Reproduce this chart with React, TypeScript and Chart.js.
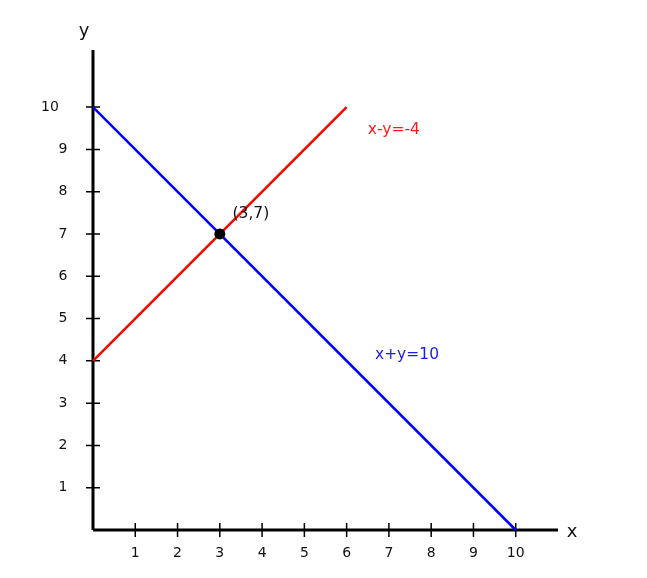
import React, { useEffect, useRef } from "react";
import { Chart, registerables } from "chart.js";

Chart.register(...registerables);

const xTicks = [1, 2, 3, 4, 5, 6, 7, 8, 9, 10];
const yTicks = [1, 2, 3, 4, 5, 6, 7, 8, 9, 10];
const redLine = [
  { x: 0, y: 4 },
  { x: 6, y: 10 },
];
const blueLine = [
  { x: 0, y: 10 },
  { x: 10, y: 0 },
];
const intersection = [{ x: 3, y: 7 }];
const redLabel = "x-y=-4";
const blueLabel = "x+y=10";
const pointLabel = "(3,7)";
const X_MAX = 11;
const Y_MAX = 11.35;

const FONT = "'DejaVu Sans', sans-serif";

const axesPlugin = {
  id: "customAxes",
  beforeDatasetsDraw(chart: any) {
    const ctx = chart.ctx;
    const xs = chart.scales.x;
    const ys = chart.scales.y;
    const ox = xs.getPixelForValue(0);
    const oy = ys.getPixelForValue(0);
    const xEnd = xs.getPixelForValue(X_MAX);
    const yEnd = ys.getPixelForValue(Y_MAX);
    ctx.save();
    ctx.strokeStyle = "#000";
    ctx.lineWidth = 3;
    ctx.beginPath();
    ctx.moveTo(ox, oy);
    ctx.lineTo(xEnd, oy);
    ctx.moveTo(ox, oy);
    ctx.lineTo(ox, yEnd);
    ctx.stroke();
    ctx.lineWidth = 1.5;
    ctx.beginPath();
    xTicks.forEach((v) => {
      const px = xs.getPixelForValue(v);
      ctx.moveTo(px, oy - 7);
      ctx.lineTo(px, oy + 7);
    });
    yTicks.forEach((v) => {
      const py = ys.getPixelForValue(v);
      ctx.moveTo(ox - 7, py);
      ctx.lineTo(ox + 7, py);
    });
    ctx.stroke();

    ctx.fillStyle = "#111";
    ctx.font = `14px ${FONT}`;
    ctx.textAlign = "center";
    ctx.textBaseline = "middle";
    xTicks.forEach((v) => {
      const px = xs.getPixelForValue(v);
      ctx.fillText(String(v), px, oy + 23);
    });
    yTicks.forEach((v) => {
      const py = ys.getPixelForValue(v);
      const dx = v >= 10 ? 43 : 30;
      ctx.fillText(String(v), ox - dx, py);
    });
    ctx.font = `18px ${FONT}`;
    ctx.fillText("x", xEnd + 14, oy + 2);
    ctx.fillText("y", ox - 9, yEnd - 19);
    ctx.restore();
  },
  afterDatasetsDraw(chart: any) {
    const ctx = chart.ctx;
    const xs = chart.scales.x;
    const ys = chart.scales.y;
    ctx.save();
    ctx.textAlign = "left";
    ctx.textBaseline = "middle";
    ctx.font = `15.5px ${FONT}`;
    ctx.fillStyle = "#ff1a1a";
    ctx.fillText(redLabel, xs.getPixelForValue(6.5), ys.getPixelForValue(9.45));
    ctx.fillStyle = "#1a1aff";
    ctx.fillText(blueLabel, xs.getPixelForValue(6.67), ys.getPixelForValue(4.15));
    ctx.fillStyle = "#111";
    ctx.fillText(pointLabel, xs.getPixelForValue(3.3), ys.getPixelForValue(7.48));
    ctx.restore();
  },
};

export default function App() {
  const ref = useRef<HTMLCanvasElement | null>(null);
  useEffect(() => {
    if (!ref.current) return;
    const chart = new Chart(ref.current, {
      type: "scatter",
      data: {
        datasets: [
          {
            data: intersection,
            showLine: false,
            backgroundColor: "#000",
            borderColor: "#000",
            borderWidth: 0,
            pointRadius: 5.5,
            clip: false as any,
          },
          {
            data: redLine,
            showLine: true,
            borderColor: "#ff0000",
            borderWidth: 2.5,
            pointRadius: 0,
            clip: false as any,
          },
          {
            data: blueLine,
            showLine: true,
            borderColor: "#0000ff",
            borderWidth: 2.5,
            pointRadius: 0,
            clip: false as any,
          },
        ],
      },
      options: {
        animation: false,
        responsive: false,
        maintainAspectRatio: false,
        layout: { padding: { left: 93, right: 89, top: 50, bottom: 48 } },
        plugins: {
          legend: { display: false },
          tooltip: { enabled: false },
        },
        scales: {
          x: { type: "linear", min: 0, max: X_MAX, display: false },
          y: { type: "linear", min: 0, max: Y_MAX, display: false },
        },
      },
      plugins: [axesPlugin],
    });
    return () => chart.destroy();
  }, []);
  return (
    <div style={{ position: "fixed", left: 0, top: 0, width: 647, height: 578, background: "#fff" }}>
      <canvas ref={ref} width={647} height={578} style={{ display: "block" }} />
    </div>
  );
}
